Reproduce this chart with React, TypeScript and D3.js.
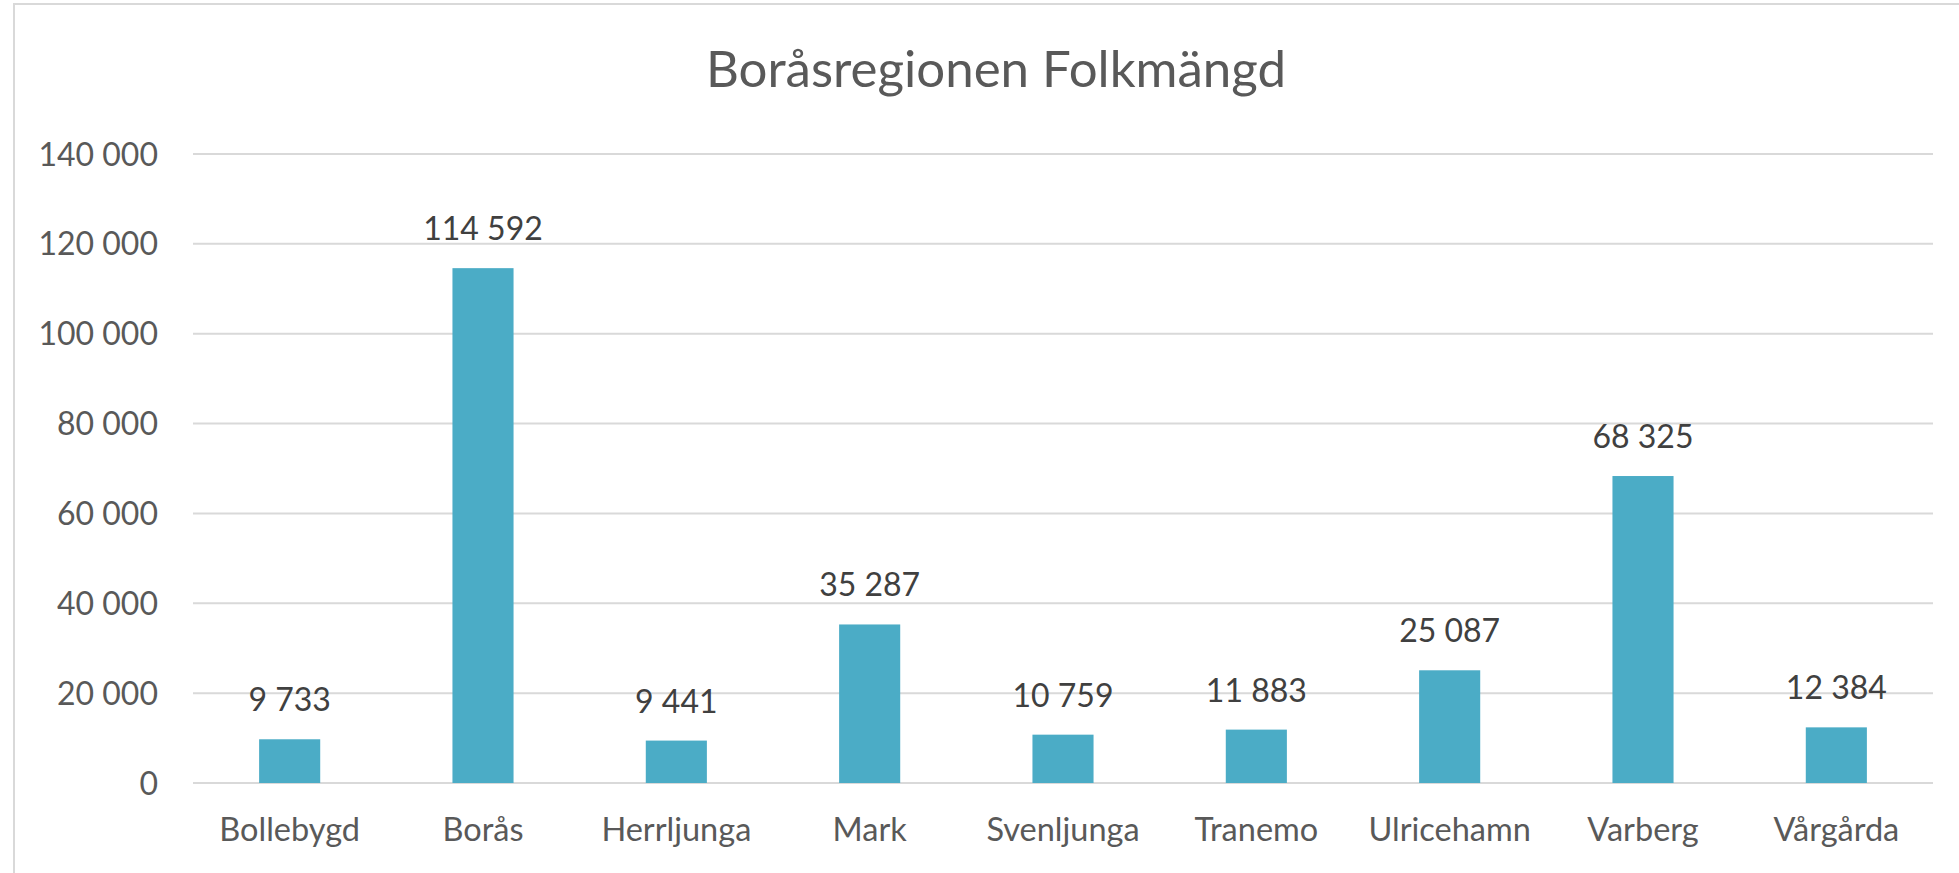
import React from 'react';
import * as d3 from 'd3';

const kommuner = ['Bollebygd', 'Borås', 'Herrljunga', 'Mark', 'Svenljunga', 'Tranemo', 'Ulricehamn', 'Varberg', 'Vårgårda'];
const folkmangd = [9733, 114592, 9441, 35287, 10759, 11883, 25087, 68325, 12384];
const yTicks = [0, 20000, 40000, 60000, 80000, 100000, 120000, 140000];

const sv = d3.formatLocale({ decimal: ',', thousands: ' ', grouping: [3], currency: ['', ' kr'] });
const fmt = sv.format(',d');

const App = () => {
  const width = 1959;
  const height = 873;
  const margin = { top: 154, right: 26, bottom: 90, left: 193 };
  const font = 'Lato, "Noto Sans", sans-serif';

  const xScale = d3
    .scaleBand()
    .domain(kommuner)
    .range([margin.left, width - margin.right])
    .paddingInner(0.684)
    .paddingOuter(0.342);

  const yScale = d3
    .scaleLinear()
    .domain([0, 140000])
    .range([height - margin.bottom, margin.top]);

  const bars = kommuner.map((k, i) => ({
    name: k,
    value: folkmangd[i],
    x: xScale(k) as number,
    y: yScale(folkmangd[i]),
    w: xScale.bandwidth(),
    h: yScale(0) - yScale(folkmangd[i])
  }));

  return (
    <svg
      width={width}
      height={height}
      viewBox={`0 0 ${width} ${height}`}
      style={{ position: 'absolute', left: 0, top: 0, background: '#fff' }}
    >
      <rect x={14} y={4} width={width} height={height} fill='#fff' stroke='#d9d9d9' strokeWidth={2} />

      <text
        x={996}
        y={87}
        textAnchor='middle'
        fontFamily={font}
        fontSize={51}
        fill='#595959'
      >
        Boråsregionen Folkmängd
      </text>

      <g>
        {yTicks.map(t => (
          <g key={`tick-${t}`}>
            <line
              x1={margin.left}
              x2={width - margin.right}
              y1={yScale(t)}
              y2={yScale(t)}
              stroke='#d9d9d9'
              strokeWidth={2}
            />
            <text
              x={158}
              y={yScale(t)}
              dy='0.36em'
              textAnchor='end'
              fontFamily={font}
              fontSize={32}
              fill='#595959'
            >
              {fmt(t)}
            </text>
          </g>
        ))}
      </g>

      {bars.map(d => (
        <g key={`bar-${d.name}`}>
          <rect x={d.x} y={d.y} width={d.w} height={d.h} fill='#4bacc6' />
          <text
            x={d.x + d.w / 2}
            y={d.y - 28}
            textAnchor='middle'
            fontFamily={font}
            fontSize={32}
            fill='#404040'
          >
            {fmt(d.value)}
          </text>
          <text
            x={d.x + d.w / 2}
            y={841}
            textAnchor='middle'
            fontFamily={font}
            fontSize={32.5}
            fill='#595959'
          >
            {d.name}
          </text>
        </g>
      ))}
    </svg>
  );
};

export default App;
